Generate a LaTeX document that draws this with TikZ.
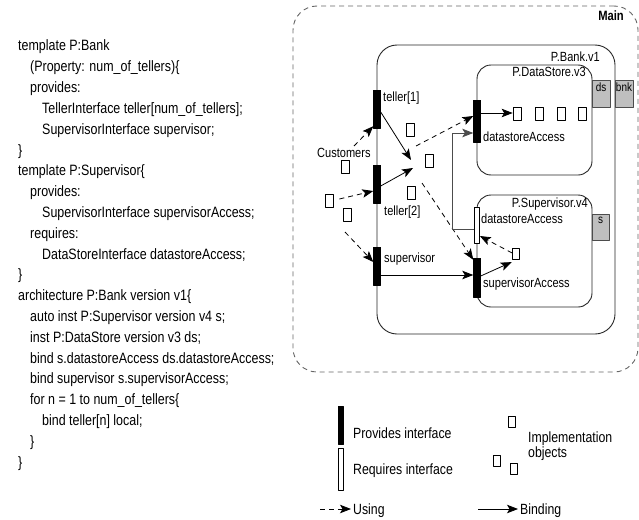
\documentclass[tikz,border=0pt]{standalone}
\usepackage{fontspec}
\setmainfont{Liberation Sans}[FakeStretch=0.83]
\usetikzlibrary{arrows.meta}
\begin{document}
\begin{tikzpicture}[x=1pt,y=-1pt, line join=round,
 code/.style={anchor=base west, inner sep=0pt, font=\fontsize{15}{17}\selectfont},
 lbl/.style={anchor=base west, inner sep=0pt, font=\fontsize{13.3}{15}\selectfont},
 leg/.style={anchor=base west, inner sep=0pt, font=\fontsize{14.8}{17}\selectfont},
 provbar/.style={draw=black, fill=black, minimum width=7pt, inner sep=0pt},
 reqbar/.style={draw=black, fill=white, line width=0.7pt, minimum width=5pt, inner sep=0pt},
 obj/.style={draw=black, line width=0.7pt, minimum width=8pt, minimum height=13pt, inner sep=0pt},
 sobj/.style={obj, minimum width=7pt, minimum height=11.5pt},
 comp/.style={draw=black!85, line width=0.9pt, inner sep=0pt},
 tabbox/.style={draw=black!70, fill=black!25, line width=0.7pt, minimum width=18pt, minimum height=27pt, inner sep=0pt},
 tablbl/.style={anchor=north, inner sep=0pt, font=\fontsize{12}{13}\selectfont},
 tip/.style={-{Stealth[length=11pt,width=8.5pt,inset=2.5pt]}},
 use/.style={tip, line width=0.8pt, dash pattern=on 5pt off 4pt},
 bind/.style={tip, line width=0.8pt},
]
\useasboundingbox (0,0) rectangle (639,519);

% ---------------- code listing ----------------
\node[code] (c1)  at (18,51)    {template P:Bank};
\node[code] (c2)  at (30,71.8)  {(Property: num\_of\_tellers)\{};
\node[code] (c3)  at (30,92.6)  {provides:};
\node[code] (c4)  at (42,113.4) {TellerInterface teller[num\_of\_tellers];};
\node[code] (c5)  at (42,134.2) {SupervisorInterface supervisor;};
\node[code] (c6)  at (18,155)   {\}};
\node[code] (c7)  at (18,175.8) {template P:Supervisor\{};
\node[code] (c8)  at (30,196.6) {provides:};
\node[code] (c9)  at (42,217.4) {SupervisorInterface supervisorAccess;};
\node[code] (c10) at (30,238.2) {requires:};
\node[code] (c11) at (42,259)   {DataStoreInterface datastoreAccess;};
\node[code] (c12) at (18,279.8) {\}};
\node[code] (c13) at (18,300.6) {architecture P:Bank version v1\{};
\node[code] (c14) at (30,321.4) {auto inst P:Supervisor version v4 s;};
\node[code] (c15) at (30,342.2) {inst P:DataStore version v3 ds;};
\node[code] (c16) at (30,363)   {bind s.datastoreAccess ds.datastoreAccess;};
\node[code] (c17) at (30,383.8) {bind supervisor s.supervisorAccess;};
\node[code] (c18) at (30,404.6) {for n = 1 to num\_of\_tellers\{};
\node[code] (c19) at (42,425.4) {bind teller[n] local;};
\node[code] (c20) at (30,446.2) {\}};
\node[code] (c21) at (18,467)   {\}};

% ---------------- components ----------------
\node[comp, draw=black!60, dash pattern=on 5pt off 4pt, rounded corners=24pt,
      minimum width=345pt, minimum height=366pt] (main) at (465.5,189) {};
\node[anchor=base east, inner sep=0pt, font=\fontsize{13.5}{15}\selectfont\bfseries] (mainlbl) at (624,20.5) {Main};

\node[comp, rounded corners=20pt, minimum width=238pt, minimum height=289pt] (bank) at (496,189.5) {};
\node[lbl, anchor=base east] (banklbl) at (600,62) {P.Bank.v1};

\node[comp, rounded corners=14pt, minimum width=115pt, minimum height=110pt] (ds) at (534.5,120) {};
\node[lbl, anchor=base east] (dslbl) at (586,77) {P.DataStore.v3};

\node[comp, rounded corners=14pt, minimum width=115pt, minimum height=112pt] (sup) at (534.5,251) {};
\node[lbl, anchor=base east] (suplbl) at (588,207) {P.Supervisor.v4};

\node[tabbox] (dstab) at (601,93.5) {};
\node[tablbl] (dstabl) at ([yshift=-3pt]dstab.north) {ds};
\node[tabbox] (bnktab) at (624,93.5) {};
\node[tablbl] (bnktabl) at ([yshift=-3pt]bnktab.north) {bnk};
\node[tabbox, minimum width=17pt, minimum height=26pt] (stab) at (600.5,227) {};
\node[tablbl] (stabl) at ([yshift=-3pt]stab.north) {s};

% ---------------- interfaces ----------------
\node[provbar, minimum height=38pt] (t1) at (377,109) {};
\node[provbar, minimum height=38pt] (t2) at (377,184) {};
\node[provbar, minimum height=38pt] (sv) at (377,266) {};
\node[provbar, minimum height=42pt] (dsa) at (477,121) {};
\node[reqbar, minimum height=36pt] (sda) at (477,225) {};
\node[provbar, minimum height=39pt] (saa) at (477,277.5) {};

\node[lbl] (t1l) at (383,101) {teller[1]};
\node[lbl] (t2l) at (384,215) {teller[2]};
\node[lbl] (svl) at (384,262) {supervisor};
\node[lbl] (dsal) at (483,141) {datastoreAccess};
\node[lbl] (sdal) at (481,223) {datastoreAccess};
\node[lbl] (saal) at (483,287) {supervisorAccess};
\node[lbl] (custl) at (317,157) {Customers};

% ---------------- implementation objects ----------------
\node[obj] (o1) at (517,114) {};
\node[obj] (o2) at (539,114) {};
\node[obj] (o3) at (561,114) {};
\node[obj] (o4) at (582,114) {};
\node[sobj] (so) at (516,254) {};
\node[obj] (r1) at (410,130) {};
\node[obj] (r2) at (429,161) {};
\node[obj] (r3) at (411,193) {};
\node[obj] (rc) at (345,167) {};
\node[obj] (r5) at (329,201) {};
\node[obj] (r6) at (347,215) {};

% ---------------- connectors ----------------
\coordinate (a1s) at (354,146);
\coordinate (a3s) at (345,232);
\coordinate (b1e) at (411,160);
\coordinate (b2e) at (413,168);
\coordinate (a4s) at (416,146);
\coordinate (a5s) at (422,183);

\draw[use] (a1s) -- ([yshift=2pt]t1.south west);
\draw[use] ([xshift=6pt,yshift=2pt]r5.east) -- ([yshift=-7pt]t2.west);
\draw[use] (a3s) -- ([yshift=4pt]sv.west);
\draw[bind] ([yshift=-3pt]t1.east) -- (b1e);
\draw[bind] ([yshift=-2pt]t2.east) -- (b2e);
\draw[use] (a4s) -- ([yshift=5pt]dsa.west);
\draw[use] (a5s) -- ([yshift=-2pt]saa.north west);
\draw[bind] ([yshift=-9pt]sv.east) -- ([yshift=-9pt]sv.east -| saa.west);
\draw[bind, draw=black!70] ([yshift=-4pt]sda.west) -- ++(-21.5,0) |- ([yshift=-12pt]dsa.west);
\draw[bind] ([yshift=8pt]dsa.east) -- ([yshift=8pt]dsa.east -| o1.west);
\draw[use] ([yshift=1pt]so.west) -- ([yshift=-11pt]sda.east);
\draw[bind] ([yshift=1.5pt]saa.east) -- ([xshift=-0.5pt,yshift=-2pt]so.south west);

% ---------------- legend ----------------
\node[provbar, minimum width=5pt, minimum height=38pt] (lp) at (340.5,425) {};
\node[reqbar, minimum height=42pt] (lr) at (340.5,469) {};
\node[leg] (lpl) at (353,438) {Provides interface};
\node[leg] (lrl) at (353,474) {Requires interface};
\node[sobj] (lo1) at (512,422) {};
\node[sobj] (lo2) at (497,461) {};
\node[sobj] (lo3) at (514,469) {};
\node[leg] (lol1) at (528,442) {Implementation};
\node[leg] (lol2) at (528,457) {objects};
\coordinate (u1) at (320,509);
\coordinate (u2) at (351,509);
\draw[use] (u1) -- (u2);
\node[leg] (ul) at (353,514) {Using};
\coordinate (bl1) at (478,509);
\coordinate (bl2) at (518,509);
\draw[bind] (bl1) -- (bl2);
\node[leg] (bll) at (520,514) {Binding};
\end{tikzpicture}
\end{document}
